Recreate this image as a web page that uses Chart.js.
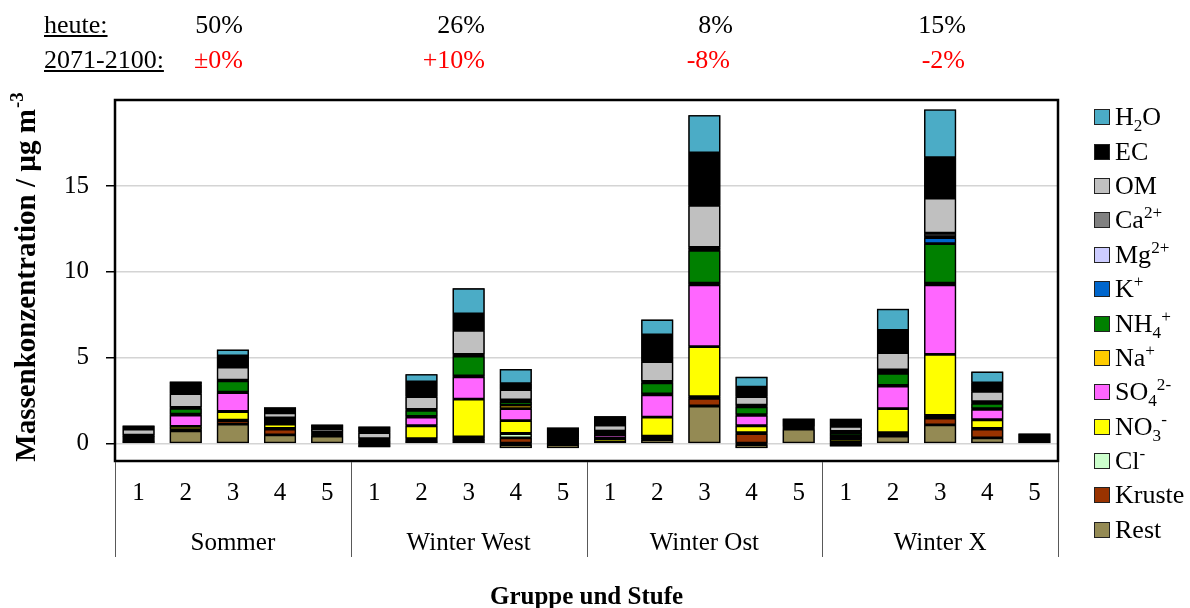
<!DOCTYPE html>
<html>
<head>
<meta charset="utf-8">
<script src="https://cdn.jsdelivr.net/npm/chart.js@4.4.1/dist/chart.umd.min.js"></script>
<style>
  body { margin: 0; background: #fff; font-family: "Liberation Serif", serif; }
  #wrap { position: relative; width: 1190px; height: 608px; overflow: hidden; }
  #chart { position: absolute; left: 0; top: 0; }
  .hdr { position: absolute; font-size: 26px; line-height: 30px; white-space: nowrap; color: #000; }
  .red { color: #ff0000; }
  .ul { text-decoration: underline; }
  #legend { position: absolute; left: 1094px; top: 100px; }
  .item { height: 34.4px; display: flex; align-items: center; font-size: 26px; white-space: nowrap; }
  .box { width: 14px; height: 14px; border: 1px solid #222; margin-right: 5px; flex: none; }
  sub, sup { font-size: 0.66em; line-height: 0; }
</style>
</head>
<body>
<div id="wrap">
  <canvas id="chart" width="1190" height="608"></canvas>
  <div class="hdr ul" style="left:44px;top:10px">heute:</div>
  <div class="hdr ul" style="left:44px;top:45px">2071-2100:</div>
  <div class="hdr" style="right:947px;top:10px">50%</div>
  <div class="hdr" style="right:705px;top:10px">26%</div>
  <div class="hdr" style="right:457px;top:10px">8%</div>
  <div class="hdr" style="right:224px;top:10px">15%</div>
  <div class="hdr red" style="right:947px;top:45px">±0%</div>
  <div class="hdr red" style="right:705px;top:45px">+10%</div>
  <div class="hdr red" style="right:460px;top:45px">-8%</div>
  <div class="hdr red" style="right:225px;top:45px">-2%</div>
  <div id="legend"></div>
</div>
<script>
const groups = ['Sommer', 'Winter West', 'Winter Ost', 'Winter X'];
const stages = ['1', '2', '3', '4', '5'];
const categories = groups.flatMap(g => stages.map(s => `${g} ${s}`));

// bottom of the stack first
const seriesNames = ['Rest', 'Kruste', 'Cl-', 'NO3-', 'SO4 2-', 'Na+', 'NH4+', 'K+', 'Mg2+', 'Ca2+', 'OM', 'EC', 'H2O'];
const seriesHtml = ['Rest', 'Kruste', 'Cl<sup>-</sup>', 'NO<sub>3</sub><sup>-</sup>', 'SO<sub>4</sub><sup>2-</sup>',
  'Na<sup>+</sup>', 'NH<sub>4</sub><sup>+</sup>', 'K<sup>+</sup>', 'Mg<sup>2+</sup>', 'Ca<sup>2+</sup>', 'OM', 'EC', 'H<sub>2</sub>O'];
const seriesColors = ['#948a54', '#993300', '#ccffcc', '#ffff00', '#ff66ff', '#ffcc00', '#008000', '#0066cc',
  '#ccccff', '#808080', '#c0c0c0', '#000000', '#4bacc6'];

const rest   = [0.2, 0.75, 1.15, 0.52, 0.45, -0.2, 0.2, 0.15, -0.25, -0.25, 0.05, 0.25, 2.2, -0.25, 0.85, -0.15, 0.45, 1.1, 0.35, 0];
const kruste = [0.03, 0.05, 0.2, 0.33, 0.02, 0.02, 0.05, 0.15, 0.35, 0.02, 0.03, 0.1, 0.45, 0.6, 0.02, 0.03, 0.1, 0.4, 0.5, 0];
const cl     = [0.02, 0.02, 0.03, 0.05, 0.02, 0.02, 0.05, 0.1, 0.25, 0.02, 0.03, 0.1, 0.1, 0.05, 0.01, 0.05, 0.1, 0.15, 0.05, 0];
const no3    = [0.06, 0.2, 0.5, 0.25, 0.05, 0.06, 0.75, 2.2, 0.75, 0.05, 0.2, 1.1, 2.9, 0.4, 0.02, 0.18, 1.4, 3.55, 0.5, 0];
const so4    = [0.06, 0.65, 1.1, 0.1, 0.05, 0.06, 0.5, 1.3, 0.7, 0.05, 0.2, 1.3, 3.6, 0.6, 0.02, 0.15, 1.3, 4.05, 0.6, 0];
const na     = [0.03, 0.05, 0.03, 0.05, 0.02, 0.03, 0.05, 0.05, 0.2, 0.02, 0.05, 0.05, 0.1, 0.05, 0.01, 0.05, 0.05, 0.1, 0.05, 0];
const nh4    = [0.06, 0.35, 0.65, 0.12, 0.05, 0.06, 0.35, 1.15, 0.2, 0.05, 0.1, 0.65, 1.9, 0.45, 0.02, 0.18, 0.7, 2.3, 0.3, 0];
const k      = [0.02, 0.02, 0.02, 0.03, 0.01, 0.02, 0.02, 0.03, 0.03, 0.01, 0.03, 0.02, 0.05, 0.03, 0.01, 0.03, 0.1, 0.35, 0.03, 0];
const mg     = [0.01, 0.01, 0.01, 0.02, 0.01, 0.01, 0.01, 0.02, 0.02, 0.01, 0.02, 0.01, 0.02, 0.02, 0.01, 0.02, 0.05, 0.05, 0.02, 0];
const ca     = [0.02, 0.02, 0.02, 0.03, 0.02, 0.02, 0.02, 0.05, 0.05, 0.02, 0.03, 0.05, 0.1, 0.05, 0.01, 0.03, 0.05, 0.2, 0.05, 0];
const om     = [0.35, 0.8, 0.75, 0.3, 0.18, 0.35, 0.75, 1.4, 0.6, 0.1, 0.35, 1.15, 2.45, 0.5, 0.03, 0.3, 1.0, 2.05, 0.6, 0];
const ec     = [0.17, 0.55, 0.65, 0.2, 0.22, 0.34, 0.85, 0.95, 0.35, 0.45, 0.4, 1.55, 3.05, 0.55, 0.45, 0.42, 1.3, 2.35, 0.5, 0.6];
const h2o    = [0.03, 0.15, 0.37, 0.12, 0.02, 0.02, 0.45, 1.5, 0.85, 0.15, 0.12, 0.9, 2.2, 0.6, 0.01, 0.02, 1.25, 2.8, 0.65, 0];
const seriesData = [rest, kruste, cl, no3, so4, na, nh4, k, mg, ca, om, ec, h2o];

const yTicks = [0, 5, 10, 15];

const FONT = '"Liberation Serif", "Times New Roman", serif';

// legend, H2O on top like the original
const legend = document.getElementById('legend');
for (let i = seriesNames.length - 1; i >= 0; i--) {
  const div = document.createElement('div');
  div.className = 'item';
  div.innerHTML = `<span class="box" style="background:${seriesColors[i]}"></span><span>${seriesHtml[i]}</span>`;
  legend.appendChild(div);
}

// black backing behind each stack so hairline segments read as outline, like Excel
const backingPlugin = {
  id: 'backing',
  beforeDatasetsDraw(chart) {
    const ctx = chart.ctx;
    const metas = chart.getSortedVisibleDatasetMetas();
    ctx.save();
    ctx.fillStyle = '#000';
    categories.forEach((c, j) => {
      let top = Infinity, bot = -Infinity, cx = 0, w = 0;
      metas.forEach(m => {
        const el = m.data[j];
        if (!el || Math.abs(el.y - el.base) < 0.01) return;
        top = Math.min(top, el.y, el.base);
        bot = Math.max(bot, el.y, el.base);
        cx = el.x;
        w = el.width;
      });
      if (bot > top) ctx.fillRect(cx - w / 2, top, w, bot - top);
    });
    ctx.restore();
  },
};

const decorPlugin = {
  id: 'decor',
  afterDraw(chart) {
    const { ctx, chartArea: a, scales: { x } } = chart;
    ctx.save();
    // plot frame
    ctx.strokeStyle = '#000';
    ctx.lineWidth = 2.5;
    ctx.strokeRect(a.left, a.top, a.right - a.left, a.bottom - a.top);

    // group separators under the axis
    const n = stages.length;
    ctx.strokeStyle = '#595959';
    ctx.lineWidth = 1;
    for (let g = 0; g <= groups.length; g++) {
      let px;
      if (g === 0) px = a.left;
      else if (g === groups.length) px = a.right;
      else px = (x.getPixelForValue(g * n - 1) + x.getPixelForValue(g * n)) / 2;
      px = Math.round(px) + 0.5;
      ctx.beginPath();
      ctx.moveTo(px, a.bottom + 1);
      ctx.lineTo(px, a.bottom + 96);
      ctx.stroke();
    }

    // stage numbers and group names
    ctx.fillStyle = '#000';
    ctx.textAlign = 'center';
    ctx.textBaseline = 'middle';
    ctx.font = `25px ${FONT}`;
    categories.forEach((c, i) => {
      ctx.fillText(stages[i % n], x.getPixelForValue(i), a.bottom + 32);
    });
    groups.forEach((g, gi) => {
      const cx = (x.getPixelForValue(gi * n) + x.getPixelForValue(gi * n + n - 1)) / 2;
      ctx.fillText(g, cx, a.bottom + 82);
    });

    // x title
    ctx.font = `bold 25px ${FONT}`;
    ctx.textBaseline = 'alphabetic';
    ctx.fillText('Gruppe und Stufe', (a.left + a.right) / 2, 604);

    // y title with superscript
    ctx.translate(35, (a.top + a.bottom) / 2 - 3);
    ctx.rotate(-Math.PI / 2);
    const main = 'Massenkonzentration / µg m';
    ctx.font = `bold 29px ${FONT}`;
    const wMain = ctx.measureText(main).width;
    ctx.font = `bold 19px ${FONT}`;
    const wSup = ctx.measureText('-3').width;
    const x0 = -(wMain + wSup) / 2;
    ctx.textAlign = 'left';
    ctx.font = `bold 29px ${FONT}`;
    ctx.fillText(main, x0, 0);
    ctx.font = `bold 19px ${FONT}`;
    ctx.fillText('-3', x0 + wMain + 1, -12);
    ctx.restore();
  },
};

new Chart(document.getElementById('chart'), {
  type: 'bar',
  data: {
    labels: categories,
    datasets: seriesData.map((d, i) => ({
      label: seriesNames[i],
      data: d,
      backgroundColor: seriesColors[i],
      borderColor: '#000',
      borderWidth: 1.4,
      borderSkipped: false,
      inflateAmount: 0,
      barPercentage: 0.68,
      categoryPercentage: 1,
    })),
  },
  options: {
    responsive: false,
    animation: false,
    devicePixelRatio: 1,
    layout: { padding: { top: 100, right: 132, left: 0, bottom: 0 } },
    plugins: { legend: { display: false }, tooltip: { enabled: false } },
    scales: {
      x: {
        stacked: true,
        grid: { display: false },
        border: { display: false },
        ticks: { display: false },
        afterFit: s => { s.height = 147; },
      },
      y: {
        stacked: true,
        min: -1,
        max: 20,
        afterBuildTicks: s => { s.ticks = yTicks.map(v => ({ value: v })); },
        afterFit: s => { s.width = 115; },
        border: { display: false },
        grid: { color: '#d4d4d4', lineWidth: 1.5, tickColor: '#000', tickLength: 9 },
        ticks: { color: '#000', padding: 17, font: { family: FONT, size: 25 } },
      },
    },
  },
  plugins: [backingPlugin, decorPlugin],
});
</script>
</body>
</html>
